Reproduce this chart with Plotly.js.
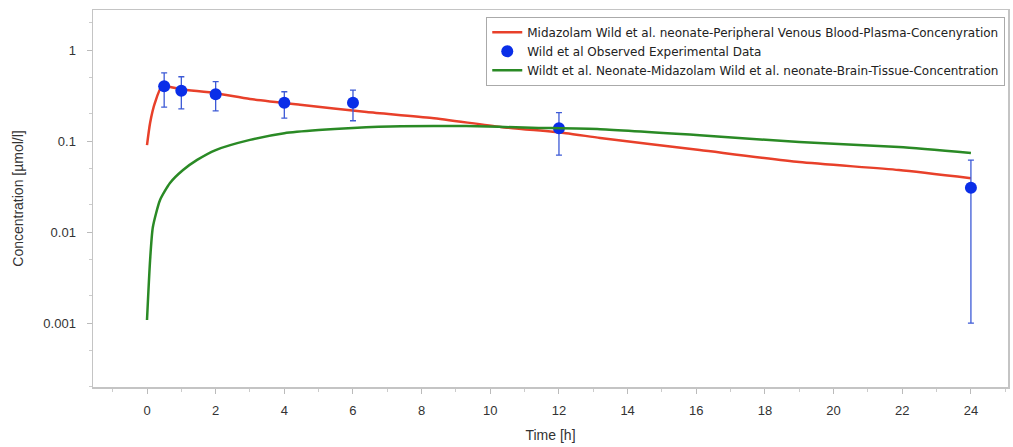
<!DOCTYPE html>
<html>
<head>
<meta charset="utf-8">
<script src="https://cdn.plot.ly/plotly-3.0.1.min.js"></script>
<style>html,body{margin:0;padding:0;background:#fff;}#chart{width:1013px;height:447px;}</style>
</head>
<body>
<div id="chart"></div>
<script>
// Simulated plasma concentration (red)
const plasmaTime = [0, 0.09, 0.23, 0.44, 1, 2, 3, 4.46, 6.4, 8.3, 10.3, 12.2, 13.2, 16.1, 19, 21.9, 24];
const plasmaConc = [0.09, 0.158, 0.262, 0.40, 0.37, 0.335, 0.29, 0.25, 0.208, 0.179, 0.143, 0.122, 0.108, 0.0796, 0.0588, 0.048, 0.039];

// Simulated brain tissue concentration (green)
const brainTime = [0, 0.09, 0.17, 0.38, 0.67, 1.05, 1.46, 2, 3, 4, 5, 6, 7.4, 9.3, 11.2, 13.2, 16.1, 19, 21.9, 24];
const brainConc = [0.00108, 0.0049, 0.0113, 0.0225, 0.0346, 0.048, 0.062, 0.0796, 0.103, 0.122, 0.132, 0.139, 0.145, 0.146, 0.140, 0.135, 0.116, 0.0975, 0.086, 0.074];

// Observed experimental data (blue)
const obsTime = [0.5, 1, 2, 4, 6, 12, 24];
const obsConc = [0.40, 0.357, 0.326, 0.264, 0.264, 0.138, 0.0307];
const obsUpper = [0.56, 0.509, 0.449, 0.348, 0.363, 0.205, 0.0618];
const obsLower = [0.236, 0.226, 0.215, 0.179, 0.167, 0.070, 0.001];

const xTickVals = [0, 2, 4, 6, 8, 10, 12, 14, 16, 18, 20, 22, 24];
const yTickVals = [0.001, 0.01, 0.1, 1];
const yTickText = ['0.001', '0.01', '0.1', '1'];

const names = [
  'Midazolam Wild et al. neonate-Peripheral Venous Blood-Plasma-Concenyration',
  'Wild et al Observed Experimental Data',
  'Wildt et al. Neonate-Midazolam Wild et al. neonate-Brain-Tissue-Concentration'
];

const traces = [
  {
    x: plasmaTime, y: plasmaConc, name: names[0], type: 'scatter', mode: 'lines',
    line: {color: '#e8402a', width: 2.5, shape: 'spline', smoothing: 0.6}
  },
  {
    x: obsTime, y: obsConc, name: names[1], type: 'scatter', mode: 'markers',
    marker: {color: '#0a2ee8', size: 12},
    error_y: {
      type: 'data', symmetric: false,
      array: obsUpper.map((u, i) => u - obsConc[i]),
      arrayminus: obsLower.map((l, i) => obsConc[i] - l),
      color: '#3d5ad6', thickness: 1.3, width: 3
    }
  },
  {
    x: brainTime, y: brainConc, name: names[2], type: 'scatter', mode: 'lines',
    line: {color: '#2a8a25', width: 2.5, shape: 'spline', smoothing: 0.6}
  }
];

const FAM = 'Liberation Sans, Arial, sans-serif';
const axisFont = {family: FAM, size: 13, color: '#333'};

const layout = {
  width: 1013, height: 447,
  margin: {l: 93, r: 5, t: 10, b: 60},
  paper_bgcolor: '#fff', plot_bgcolor: '#fff',
  font: axisFont,
  showlegend: true,
  legend: {
    x: 0.997, xanchor: 'right', y: 0.982, yanchor: 'top',
    bgcolor: '#fff', bordercolor: '#aaa', borderwidth: 1,
    font: {family: 'DejaVu Sans, sans-serif', size: 12, color: '#222'},
    itemwidth: 30, tracegroupgap: 0
  },
  xaxis: {
    range: [-1.573, 25.08],
    tickmode: 'array', tickvals: xTickVals, ticktext: xTickVals.map(String),
    ticks: 'outside', ticklen: 5, tickcolor: '#bbb',
    ticklabelstandoff: 6,
    minor: {dtick: 1, tick0: 0, ticks: 'outside', ticklen: 3, tickcolor: '#ccc'},
    showgrid: false, zeroline: false,
    showline: true, linecolor: '#c4c4c4', linewidth: 1.5, mirror: true,
    tickfont: axisFont,
    title: {text: 'Time [h]', font: {family: FAM, size: 14, color: '#333'}, standoff: 13}
  },
  yaxis: {
    type: 'log', range: [-3.703, 0.44],
    tickmode: 'array', tickvals: yTickVals, ticktext: yTickText,
    ticks: 'outside', ticklen: 5, tickcolor: '#bbb',
    ticklabelstandoff: 8,
    minor: {dtick: 'D2', ticks: 'outside', ticklen: 3, tickcolor: '#ccc'},
    showgrid: false, zeroline: false,
    showline: true, linecolor: '#c4c4c4', linewidth: 1.5, mirror: true,
    tickfont: axisFont,
    title: {text: 'Concentration [µmol/l]', font: {family: FAM, size: 14, color: '#333'}, standoff: 16}
  }
};

Plotly.newPlot('chart', traces, layout, {displayModeBar: false, staticPlot: true});
</script>
</body>
</html>
